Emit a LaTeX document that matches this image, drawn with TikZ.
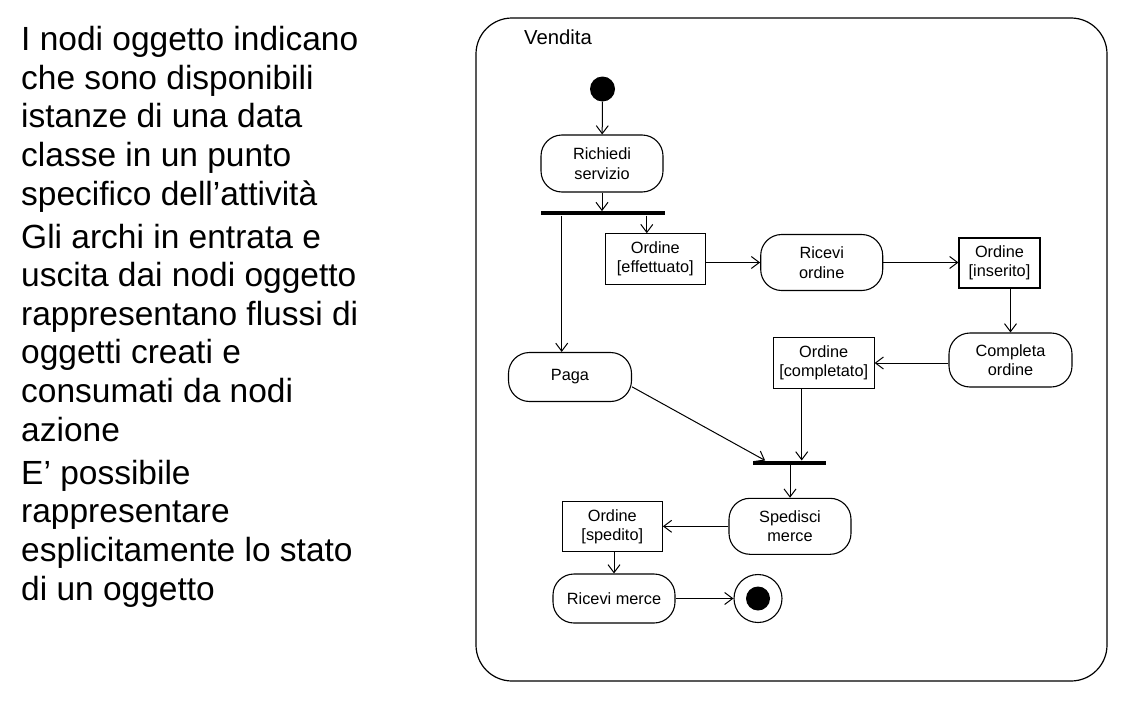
\documentclass[tikz,border=0pt]{standalone}
\usepackage{fontspec}
\setmainfont{Liberation Sans}
\usetikzlibrary{arrows.meta,calc}
\begin{document}
\begin{tikzpicture}[x=1pt,y=-1pt,
  lefttext/.style={inner sep=0pt, align=left, font=\fontsize{33.5}{38.6}\selectfont},
  action/.style={draw, line width=1.1pt, rounded corners=21pt, minimum width=122pt, minimum height=56pt, inner sep=1pt, align=center, font=\fontsize{16.3}{19.4}\selectfont},
  objbox/.style={draw, line width=1.1pt, minimum width=100pt, minimum height=50.5pt, inner sep=1pt, align=center, font=\fontsize{16.3}{19.4}\selectfont},
  bar/.style={fill=black, inner sep=0pt, minimum height=4pt},
  arr/.style={line width=1pt, -{Straight Barb[length=8pt,width=12pt,line width=1pt]}},
  flow/.style={line width=1pt}
]
\useasboundingbox (0,0) rectangle (1144,704);
% left text (anchored at the baseline of each paragraph's last line)
\node[lefttext, anchor=base west] (p1) at (21,205) {I nodi oggetto indicano\\che sono disponibili\\istanze di una data\\classe in un punto\\specifico dell’attività};
\node[lefttext, anchor=base west] (p2) at (21,441) {Gli archi in entrata e\\uscita dai nodi oggetto\\rappresentano flussi di\\oggetti creati e\\consumati da nodi\\azione};
\node[lefttext, anchor=base west] (p3) at (21,600) {E’ possibile\\rappresentare\\esplicitamente lo stato\\di un oggetto};
% frame
\node[draw, line width=1.2pt, rounded corners=36pt, minimum width=631pt, minimum height=663pt, inner sep=0pt] (frame) at (791.5,349.5) {};
\node[inner sep=0pt, anchor=base west, font=\fontsize{20.3}{24}\selectfont] (title) at (524,45) {Vendita};
% nodes
\node[circle, fill=black, minimum size=25pt, inner sep=0pt] (init) at (602.5,89) {};
\node[action, minimum height=57pt] (rich) at (602,163.5) {Richiedi\\servizio};
\node[bar, minimum width=124.3pt] (bar1) at (602.9,213.3) {};
\node[objbox] (eff) at (655.3,259) {Ordine\\{[effettuato]}};
\node[action] (rord) at (821.7,262.5) {Ricevi\\ordine};
\node[objbox, minimum width=81pt, minimum height=50pt] (ins) at (999.5,263) {Ordine\\{[inserito]}};
\node[action, minimum width=123pt, minimum height=54pt] (comp) at (1010.5,360) {Completa\\ordine};
\node[objbox, minimum width=100.7pt] (compl) at (823.7,363) {Ordine\\{[completato]}};
\node[action, minimum width=123pt, minimum height=49pt] (paga) at (570,377) {Paga};
\node[bar, minimum width=72.7pt] (bar2) at (789.7,462.7) {};
\node[action] (sped) at (790,526.3) {Spedisci\\merce};
\node[objbox, minimum height=50pt] (sp) at (612.3,526.7) {Ordine\\{[spedito]}};
\node[action, minimum height=49pt] (rm) at (614,598.5) {Ricevi merce};
\node[circle, draw, line width=1.1pt, minimum size=48pt, inner sep=0pt] (fin) at (758,598.5) {};
\node[circle, fill=black, minimum size=24pt, inner sep=0pt] (finin) at (fin.center) {};
% edges
\draw[arr] (init) -- (rich);
\draw[arr] (rich.south) -- (rich.south |- bar1.north);
\draw[arr] ([xshift=-8.5pt]eff.north |- bar1.south) -- ([xshift=-8.5pt]eff.north);
\draw[arr] ([xshift=-8.3pt]paga.north |- bar1.south) -- ([xshift=-8.3pt]paga.north);
\draw[arr] (eff.east |- rord.west) -- (rord.west);
\draw[arr] (rord.east) -- (ins.west |- rord.east);
\draw[arr] (ins.south -| comp.north) -- (comp.north);
\draw[arr] (comp.west |- compl.east) -- (compl.east);
\draw[arr] ([xshift=-22pt]compl.south) -- ([xshift=-22pt]compl.south |- bar2.north);
\draw[arr] (paga.-9) -- ([xshift=12pt]bar2.north west);
\draw[arr] (bar2.south -| sped.north) -- (sped.north);
\draw[arr] (sped.west) -- (sp.east |- sped.west);
\draw[arr] (sp.south -| rm.north) -- (rm.north);
\draw[arr] (rm.east) -- (fin.west);
\end{tikzpicture}
\end{document}
